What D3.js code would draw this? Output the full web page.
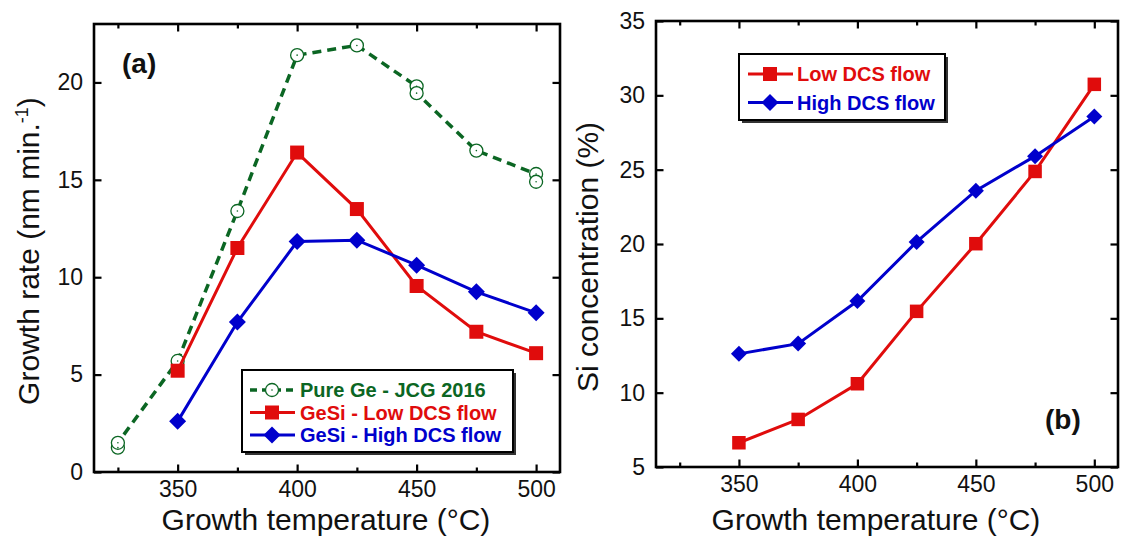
<!DOCTYPE html>
<html><head><meta charset="utf-8">
<script src="https://cdn.jsdelivr.net/npm/d3@7"></script>
<style>
html,body{margin:0;padding:0;background:#fff;}
svg{display:block;font-family:"Liberation Sans",Arial,Helvetica,sans-serif;}
</style></head>
<body>
<svg id="chart" width="1123" height="538"></svg>
<script>
// ---- Data ----
const temps = [350, 375, 400, 425, 450, 475, 500];
const pureGeTemps = [325, 325, 350, 375, 400, 425, 450, 450, 475, 500, 500];
const pureGeRate  = [1.25, 1.5, 5.7, 13.4, 21.4, 21.9, 19.8, 19.45, 16.5, 15.3, 14.9];
const lowRate  = [5.2, 11.5, 16.4, 13.5, 9.55, 7.2, 6.1];
const highRate = [2.6, 7.7, 11.83, 11.9, 10.62, 9.25, 8.17];
const lowSi  = [6.63, 8.2, 10.6, 15.47, 20.02, 24.88, 30.74];
const highSi = [12.61, 13.3, 16.16, 20.14, 23.59, 25.91, 28.58];
const xMajor = [350, 400, 450, 500];
const xMinor = [325, 375, 425, 475];
const yTicksA = [0, 5, 10, 15, 20];
const yTicksB = [5, 10, 15, 20, 25, 30, 35];
const legendA = ["Pure Ge - JCG 2016", "GeSi - Low DCS flow", "GeSi - High DCS flow"];
const legendB = ["Low DCS flow", "High DCS flow"];

const GREEN = "#0b6623", RED = "#e00c0c", BLUE = "#0000cc";
const svg = d3.select("#chart");

function drawFrame(x, y, yTicks) {
  const [x0, x1] = x.range(), [y0, y1] = y.range();
  const g = svg.append("g");
  const ax = (axis, tx, ty) => g.append("g").attr("transform", `translate(${tx},${ty})`).call(axis)
      .call(s => s.select(".domain").remove())
      .call(s => s.selectAll(".tick line").attr("stroke", "#000").attr("stroke-width", 2.2))
      .call(s => s.selectAll(".tick text").attr("fill", "#111").attr("font-size", 23).attr("font-family", "Liberation Sans, Arial, sans-serif"));
  ax(d3.axisBottom(x).tickValues(xMajor).tickSize(-7.5).tickPadding(9).tickFormat(d3.format("d")), 0, y0);
  ax(d3.axisBottom(x).tickValues(xMinor).tickSize(-4.5).tickFormat(""), 0, y0);
  ax(d3.axisTop(x).tickValues(xMajor).tickSize(-7.5).tickFormat(""), 0, y1);
  ax(d3.axisTop(x).tickValues(xMinor).tickSize(-4.5).tickFormat(""), 0, y1);
  ax(d3.axisLeft(y).tickValues(yTicks).tickSize(-7.5).tickPadding(11).tickFormat(d3.format("d")), x0, 0);
  ax(d3.axisRight(y).tickValues(yTicks).tickSize(-7.5).tickFormat(""), x1, 0);
  g.append("rect").attr("x", x0).attr("y", y1).attr("width", x1 - x0).attr("height", y0 - y1)
    .attr("fill", "none").attr("stroke", "#000").attr("stroke-width", 2.6);
}

function lineSeries(g, xs, ys, x, y, color, width, dash) {
  g.append("path").datum(xs.map((t, i) => [t, ys[i]]))
    .attr("d", d3.line().x(d => x(d[0])).y(d => y(d[1])))
    .attr("fill", "none").attr("stroke", color).attr("stroke-width", width)
    .attr("stroke-dasharray", dash || null);
}
function squares(g, xs, ys, x, y, color, s) {
  g.selectAll(null).data(xs.map((t, i) => [t, ys[i]])).join("rect")
    .attr("x", d => x(d[0]) - s / 2).attr("y", d => y(d[1]) - s / 2)
    .attr("width", s).attr("height", s).attr("fill", color);
}
const diamondPath = h => `M0,${-h}L${h},0L0,${h}L${-h},0Z`;
function diamonds(g, xs, ys, x, y, color, h) {
  g.selectAll(null).data(xs.map((t, i) => [t, ys[i]])).join("path")
    .attr("d", diamondPath(h)).attr("transform", d => `translate(${x(d[0])},${y(d[1])})`)
    .attr("fill", color);
}
function circles(g, xs, ys, x, y, color) {
  const pts = xs.map((t, i) => [t, ys[i]]);
  g.selectAll(null).data(pts).join("circle")
    .attr("cx", d => x(d[0])).attr("cy", d => y(d[1])).attr("r", 6.5)
    .attr("fill", "#fff").attr("stroke", color).attr("stroke-width", 1.3);
  g.selectAll(null).data(pts).join("circle")
    .attr("cx", d => x(d[0])).attr("cy", d => y(d[1])).attr("r", 0.8).attr("fill", color);
}

// ---- Panel (a) ----
const xA = d3.scaleLinear().domain([315, 510]).range([94, 560]);
const yA = d3.scaleLinear().domain([0, 23]).range([472, 24]);
const gA = svg.append("g");
lineSeries(gA, pureGeTemps, pureGeRate, xA, yA, GREEN, 3.5, "9,6");
circles(gA, pureGeTemps, pureGeRate, xA, yA, GREEN);
lineSeries(gA, temps, lowRate, xA, yA, RED, 3);
squares(gA, temps, lowRate, xA, yA, RED, 14);
lineSeries(gA, temps, highRate, xA, yA, BLUE, 3);
diamonds(gA, temps, highRate, xA, yA, BLUE, 8.5);
drawFrame(xA, yA, yTicksA);

// legend (a)
const lgA = svg.append("g");
lgA.append("rect").attr("x", 245).attr("y", 373).attr("width", 271).attr("height", 82).attr("fill", "#333");
lgA.append("rect").attr("x", 242).attr("y", 370).attr("width", 271).attr("height", 82).attr("fill", "#fff").attr("stroke", "#000").attr("stroke-width", 2);
const rowsA = [390, 412.5, 435];
const colA = [GREEN, RED, BLUE];
rowsA.forEach((ry, i) => {
  lgA.append("line").attr("x1", 250).attr("x2", 295).attr("y1", ry).attr("y2", ry)
    .attr("stroke", colA[i]).attr("stroke-width", i === 0 ? 3.5 : 3).attr("stroke-dasharray", i === 0 ? "7,5" : null);
  if (i === 0) {
    lgA.append("circle").attr("cx", 272).attr("cy", ry).attr("r", 6.5).attr("fill", "#fff").attr("stroke", GREEN).attr("stroke-width", 1.3);
    lgA.append("circle").attr("cx", 272).attr("cy", ry).attr("r", 0.8).attr("fill", GREEN);
  } else if (i === 1) {
    lgA.append("rect").attr("x", 272 - 7).attr("y", ry - 7).attr("width", 14).attr("height", 14).attr("fill", RED);
  } else {
    lgA.append("path").attr("d", diamondPath(8.5)).attr("transform", `translate(272,${ry})`).attr("fill", BLUE);
  }
  lgA.append("text").attr("x", 300).attr("y", ry).attr("dy", "0.36em").attr("fill", colA[i])
    .attr("font-weight", "bold").attr("font-size", 20).text(legendA[i]);
});

svg.append("text").attr("x", 122).attr("y", 63).attr("dy", "0.36em").attr("font-weight", "bold").attr("font-size", 28).attr("fill", "#111").text("(a)");

// axis titles (a)
svg.append("text").attr("x", 326).attr("y", 530).attr("text-anchor", "middle").attr("font-size", 30).attr("fill", "#111").text("Growth temperature (°C)");
const ytA = svg.append("text").attr("transform", "translate(39,251) rotate(-90)").attr("text-anchor", "middle").attr("font-size", 30).attr("fill", "#111");
ytA.append("tspan").text("Growth rate (nm min.");
ytA.append("tspan").attr("font-size", 18).attr("dy", -11).text("-1");
ytA.append("tspan").attr("dy", 11).text(")");

// ---- Panel (b) ----
const xB = d3.scaleLinear().domain([315, 510]).range([656, 1118]);
const yB = d3.scaleLinear().domain([5, 35]).range([467, 21]);
const gB = svg.append("g");
lineSeries(gB, temps, lowSi, xB, yB, RED, 3);
squares(gB, temps, lowSi, xB, yB, RED, 13.5);
lineSeries(gB, temps, highSi, xB, yB, BLUE, 3);
diamonds(gB, temps, highSi, xB, yB, BLUE, 8);
drawFrame(xB, yB, yTicksB);

const lgB = svg.append("g");
lgB.append("rect").attr("x", 742).attr("y", 57).attr("width", 206).attr("height", 66).attr("fill", "#333");
lgB.append("rect").attr("x", 739).attr("y", 54).attr("width", 206).attr("height", 66).attr("fill", "#fff").attr("stroke", "#000").attr("stroke-width", 2);
const rowsB = [74, 102.5];
const colB = [RED, BLUE];
rowsB.forEach((ry, i) => {
  lgB.append("line").attr("x1", 748).attr("x2", 793).attr("y1", ry).attr("y2", ry).attr("stroke", colB[i]).attr("stroke-width", 3);
  if (i === 0) lgB.append("rect").attr("x", 770 - 7).attr("y", ry - 7).attr("width", 14).attr("height", 14).attr("fill", RED);
  else lgB.append("path").attr("d", diamondPath(8.5)).attr("transform", `translate(770,${ry})`).attr("fill", BLUE);
  lgB.append("text").attr("x", 797).attr("y", ry).attr("dy", "0.36em").attr("fill", colB[i])
    .attr("font-weight", "bold").attr("font-size", 20).text(legendB[i]);
});

svg.append("text").attr("x", 1045).attr("y", 419).attr("dy", "0.36em").attr("font-weight", "bold").attr("font-size", 28).attr("fill", "#111").text("(b)");

svg.append("text").attr("x", 876).attr("y", 530).attr("text-anchor", "middle").attr("font-size", 30).attr("fill", "#111").text("Growth temperature (°C)");
svg.append("text").attr("transform", "translate(598,257) rotate(-90)").attr("text-anchor", "middle").attr("font-size", 30).attr("fill", "#111").text("Si concentration (%)");
</script>
</body></html>
